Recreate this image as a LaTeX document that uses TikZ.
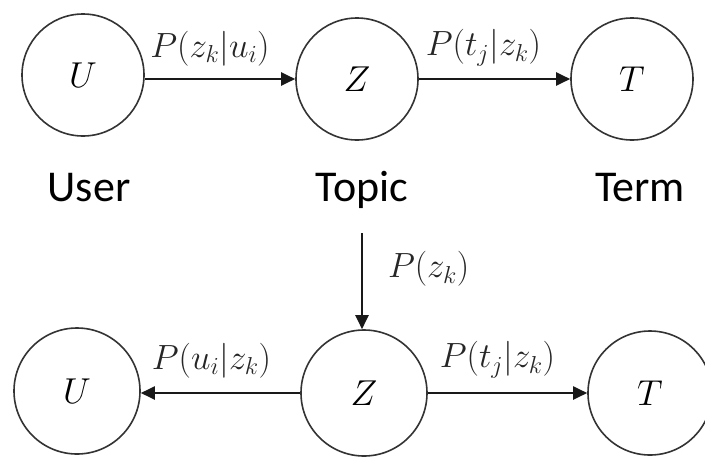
\RequirePackage{fix-cm}
\documentclass[tikz,border=0pt]{standalone}
\usepackage{fontspec}
\setsansfont{Carlito}
\usetikzlibrary{arrows.meta}
\begin{document}
\begin{tikzpicture}[x=1pt,y=-1pt,
  state/.style={circle, draw=black!80, line width=1.6pt, minimum size=122pt, inner sep=0pt,
    font=\fontsize{36}{36}\selectfont},
  conn/.style={line width=2pt, draw=black!90, -{Triangle[length=14pt,width=13pt]}},
  lbl/.style={font=\fontsize{35}{35}\selectfont, inner sep=0pt, text=black!85},
  capt/.style={font=\sffamily\fontsize{44}{44}\selectfont, anchor=base, inner sep=0pt}]
\useasboundingbox (0,0) rectangle (705,456);

% top row
\node[state] (U1) at (83,75) {$U$};
\node[state] (Z1) at (357,79) {$Z$};
\node[state] (T1) at (632,79) {$T$};
\draw[conn] (U1.east |- Z1.west) -- (Z1.west)
  node[lbl, midway, above=12pt, xshift=-10pt] (l1) {$P(z_k|u_i)$};
\draw[conn] (Z1.east) -- (T1.west)
  node[lbl, midway, above=12pt, xshift=-11pt] (l2) {$P\bigl(t_j\big|z_k\bigr)$};

% captions
\node[capt] (cu) at (89,201) {User};
\node[capt] (ct) at (362,201) {Topic};
\node[capt] (cm) at (640,201) {Term};

% bottom row
\node[state, minimum size=126pt] (U2) at (77,391) {$U$};
\node[state, minimum size=126pt] (Z2) at (364,393) {$Z$};
\node[state, minimum size=124pt] (T2) at (650,393) {$T$};
\coordinate (src) at (362,233);
\draw[conn] (src) -- (src |- Z2.north)
  node[lbl, midway, right=25pt, yshift=12pt] (l3) {$P(z_k)$};
\draw[conn] (Z2.west) -- (U2.east |- Z2.west)
  node[lbl, midway, above=14pt, xshift=-9pt] (l4) {$P(u_i|z_k)$};
\draw[conn] (Z2.east) -- (T2.west)
  node[lbl, midway, above=14pt, xshift=-10pt] (l5) {$P\bigl(t_j\big|z_k\bigr)$};
\end{tikzpicture}
\end{document}
